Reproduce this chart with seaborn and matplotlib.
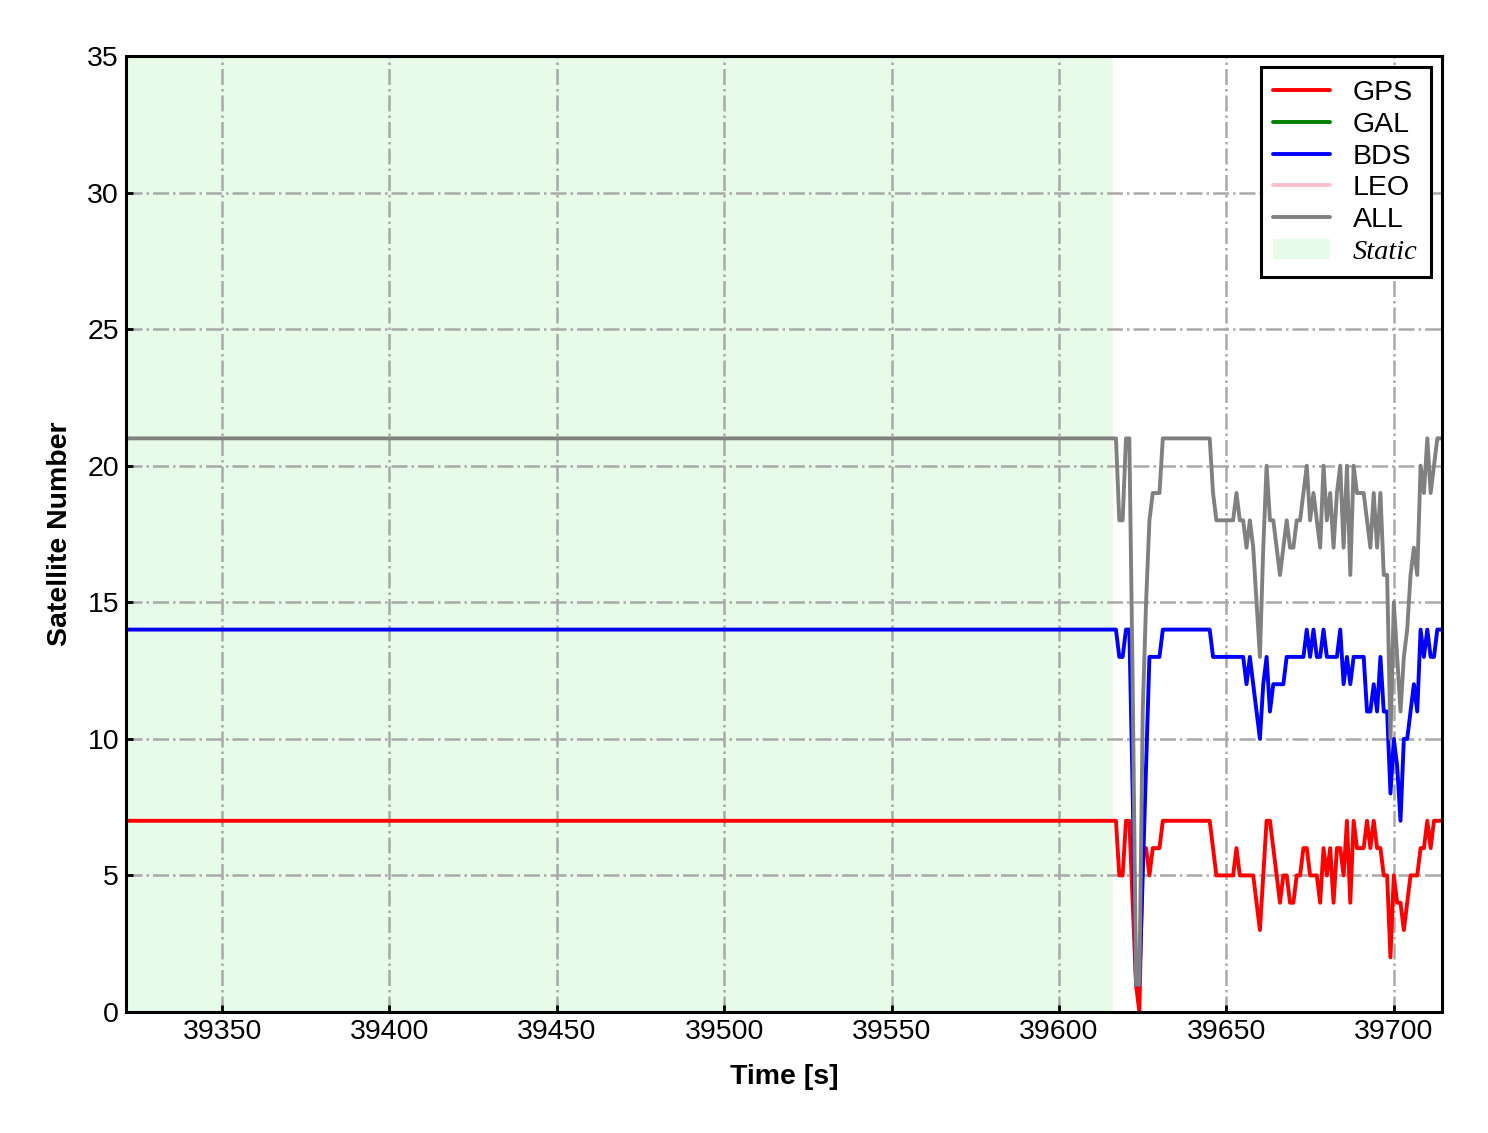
import seaborn as sns
import matplotlib.pyplot as plt
import matplotlib.patches as mpatches
from matplotlib.font_manager import FontProperties
import pandas as pd
import numpy as np

# -- DATA -- #
# flat static part kept as its two end points, then 1 s epochs once moving
time = [39322, 39616, 39617, 39618, 39619, 39620, 39621, 39622, 39623, 39624,
        39625, 39626, 39627, 39628, 39629, 39630, 39631, 39645, 39646, 39647,
        39648, 39649, 39650, 39651, 39652, 39653, 39654, 39655, 39656, 39657,
        39658, 39659, 39660, 39661, 39662, 39663, 39664, 39665, 39666, 39667,
        39668, 39669, 39670, 39671, 39672, 39673, 39674, 39675, 39676, 39677,
        39678, 39679, 39680, 39681, 39682, 39683, 39684, 39685, 39686, 39687,
        39688, 39689, 39690, 39691, 39692, 39693, 39694, 39695, 39696, 39697,
        39698, 39699, 39700, 39701, 39702, 39703, 39704, 39705, 39706, 39707,
        39708, 39709, 39710, 39711, 39712, 39713, 39714]

gps = [7, 7, 7, 5, 5, 7, 7, 4, 1, 0,
       6, 6, 5, 6, 6, 6, 7, 7, 6, 5,
       5, 5, 5, 5, 5, 6, 5, 5, 5, 5,
       5, 4, 3, 5, 7, 7, 6, 5, 4, 5,
       5, 4, 4, 5, 5, 6, 6, 5, 5, 5,
       4, 6, 5, 6, 4, 6, 6, 5, 7, 4,
       7, 6, 6, 6, 7, 6, 7, 6, 6, 5,
       5, 2, 5, 4, 4, 3, 4, 5, 5, 5,
       6, 6, 7, 6, 7, 7, 7]

bds = [14, 14, 14, 13, 13, 14, 14, 8, 1, 1,
       5, 9, 13, 13, 13, 13, 14, 14, 13, 13,
       13, 13, 13, 13, 13, 13, 13, 13, 12, 13,
       12, 11, 10, 12, 13, 11, 12, 12, 12, 12,
       13, 13, 13, 13, 13, 13, 14, 13, 14, 13,
       13, 14, 13, 13, 13, 13, 14, 12, 13, 12,
       13, 13, 13, 13, 11, 11, 12, 11, 13, 11,
       11, 8, 10, 9, 7, 10, 10, 11, 12, 11,
       14, 13, 14, 13, 13, 14, 14]

all_sat = [21, 21, 21, 18, 18, 21, 21, 12, 1, 1,
           11, 15, 18, 19, 19, 19, 21, 21, 19, 18,
           18, 18, 18, 18, 18, 19, 18, 18, 17, 18,
           17, 15, 13, 17, 20, 18, 18, 17, 16, 17,
           18, 17, 17, 18, 18, 19, 20, 18, 19, 18,
           17, 20, 18, 19, 17, 19, 20, 17, 20, 16,
           20, 19, 19, 19, 18, 17, 19, 17, 19, 16,
           16, 10, 15, 13, 11, 13, 14, 16, 17, 16,
           20, 19, 21, 19, 20, 21, 21]

static_end = 39616
x_min, x_max = 39321.3, 39714.4

# -- VISUALIZATION -- #
sns.set_style('white')
plt.rcParams['font.family'] = ['Liberation Sans', 'DejaVu Sans']
plt.rcParams['text.color'] = 'black'
plt.rcParams['axes.labelcolor'] = 'black'
plt.rcParams['xtick.color'] = 'black'
plt.rcParams['ytick.color'] = 'black'

fig = plt.figure(figsize=(14.88, 11.33), dpi=100)
ax = fig.add_axes([0.0847, 0.1068, 0.8844, 0.8438])

ax.axvspan(x_min, static_end, color='lightgreen', alpha=0.2, lw=0, zorder=0)

lw = 2.8
sns.lineplot(x=time, y=gps, color='red', lw=lw, ax=ax, label='GPS')
ax.plot([], [], color='green', lw=lw, label='GAL')
sns.lineplot(x=time, y=bds, color='blue', lw=lw, ax=ax, label='BDS')
ax.plot([], [], color='pink', lw=lw, label='LEO')
sns.lineplot(x=time, y=all_sat, color='gray', lw=lw, ax=ax, label='ALL')

ax.set_xlim(x_min, x_max)
ax.set_ylim(0, 35)
ax.set_xticks(np.arange(39350, 39701, 50))
ax.set_yticks(np.arange(0, 36, 5))

ax.grid(True, linestyle='-.', color='darkgray', lw=1.8)
ax.set_axisbelow(True)

for s in ax.spines.values():
    s.set_color('black')
    s.set_linewidth(2.2)

ax.tick_params(direction='in', length=5, width=2, labelsize=20.5, pad=5,
               bottom=True, left=True, colors='black')

ax.set_xlabel('Time [s]', fontsize=20.5, fontweight='bold', labelpad=14)
ax.set_ylabel('Satellite Number', fontsize=20.5, fontweight='bold', labelpad=10)

handles, labels = ax.get_legend_handles_labels()
handles.append(mpatches.Patch(color='lightgreen', alpha=0.2, lw=0))
labels.append('Static')
leg = ax.legend(handles, labels, loc='upper right', fontsize=20.5,
                frameon=True, fancybox=False, edgecolor='black',
                framealpha=1, labelspacing=0.2, handlelength=2.0,
                borderpad=0.45, borderaxespad=0.4)
leg.get_frame().set_linewidth(2.2)
leg.get_texts()[-1].set_fontproperties(
    FontProperties(family='Liberation Serif', style='italic', size=20.5))

plt.savefig('out.png', dpi=100)
